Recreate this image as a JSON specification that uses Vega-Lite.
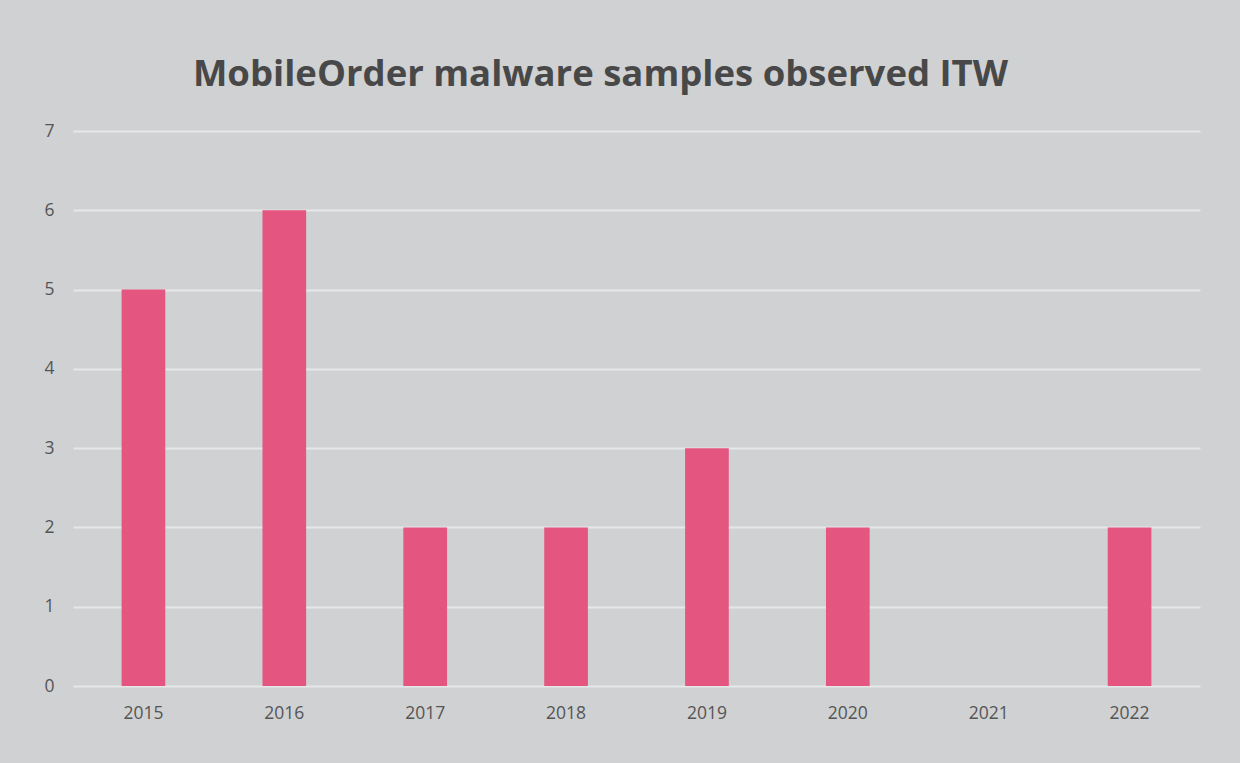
{
  "$schema": "https://vega.github.io/schema/vega-lite/v6.json",
  "width": 1127,
  "height": 555,
  "autosize": {"type": "none"},
  "padding": {"left": 73, "top": 131, "right": 40, "bottom": 77},
  "background": "#d0d1d3",
  "title": {
    "text": "MobileOrder malware samples observed ITW",
    "font": "Open Sans",
    "fontSize": 36.5,
    "fontWeight": "bold",
    "color": "#484848",
    "anchor": "middle",
    "dx": -36,
    "offset": 29
  },
  "data": {
    "values": [
      {"year": "2015", "samples": 5},
      {"year": "2016", "samples": 6},
      {"year": "2017", "samples": 2},
      {"year": "2018", "samples": 2},
      {"year": "2019", "samples": 3},
      {"year": "2020", "samples": 2},
      {"year": "2021", "samples": 0},
      {"year": "2022", "samples": 2}
    ]
  },
  "mark": {"type": "bar", "color": "#e4557f"},
  "encoding": {
    "x": {
      "field": "year",
      "type": "ordinal",
      "scale": {"paddingInner": 0.69, "paddingOuter": 0.345},
      "axis": {
        "title": null,
        "labelAngle": 0,
        "domain": false,
        "ticks": false,
        "labelPadding": 18,
        "labelFont": "Open Sans",
        "labelFontSize": 17.5,
        "labelColor": "#555555"
      }
    },
    "y": {
      "field": "samples",
      "type": "quantitative",
      "scale": {"domain": [0, 7], "nice": false},
      "axis": {
        "title": null,
        "values": [0, 1, 2, 3, 4, 5, 6, 7],
        "domain": false,
        "ticks": false,
        "labelPadding": 19,
        "labelFont": "Open Sans",
        "labelFontSize": 17.5,
        "labelColor": "#555555",
        "gridColor": "#e6e7e9",
        "gridWidth": 2
      }
    }
  },
  "config": {"view": {"stroke": null}}
}
